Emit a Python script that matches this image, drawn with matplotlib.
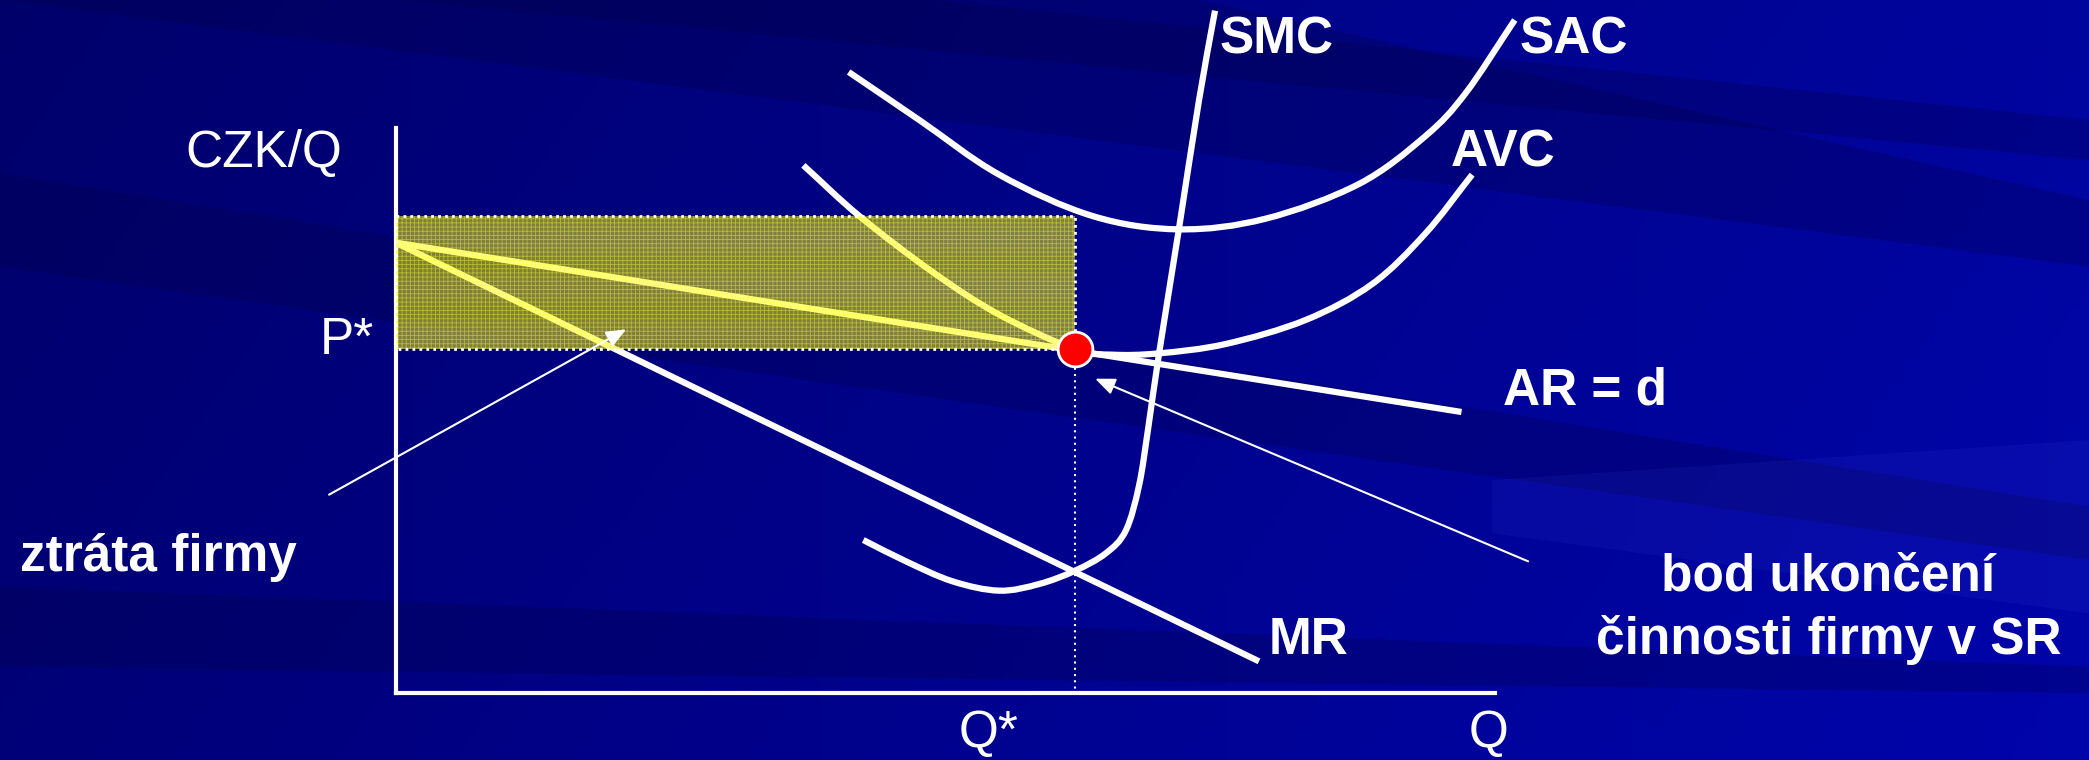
import numpy as np
import matplotlib.pyplot as plt
from matplotlib.patches import Rectangle, Polygon, PathPatch
from matplotlib.path import Path

plt.rcParams['font.family'] = ['Liberation Sans', 'DejaVu Sans']

# curve points (x to the right, y downward, 1568x570 grid)
smc_x = [648, 680, 715, 750, 780, 807, 830, 845, 855, 862, 870, 885, 900, 912]
smc_y = [405, 421, 436, 443, 438, 428, 415, 398, 364, 320, 265, 171, 75, 8]
sac_x = [637, 690, 750, 820, 885, 950, 1020, 1070, 1100, 1137]
sac_y = [54, 90, 131, 162, 172, 164, 138, 102, 70, 15]
avc_x = [603, 645, 700, 750, 807, 835, 870, 920, 980, 1030, 1070, 1105]
avc_y = [124, 162, 204, 236, 262, 266, 265, 258, 240, 213, 175, 131]
ar_x = [297, 1097]
ar_y = [182, 309]
mr_x = [297, 945]
mr_y = [182, 496]

q_star, p_star = 807, 262
loss_top = 162
axis_origin = (297, 520)
axis_top, axis_right = 96, 1122

labels = {
    'CZK/Q': (198, 115, 'normal'),
    'P*': (260, 255, 'normal'),
    'Q*': (742, 550, 'normal'),
    'Q': (1117, 550, 'normal'),
    'SMC': (958, 30, 'bold'),
    'SAC': (1181, 30, 'bold'),
    'AVC': (1128, 115, 'bold'),
    'AR = d': (1190, 293, 'bold'),
    'MR': (982, 480, 'bold'),
    'ztráta firmy': (119, 418, 'bold'),
    'bod ukončení': (1372, 433, 'bold'),
    'činnosti firmy v SR': (1373, 480, 'bold'),
}


def smooth_path(xs, ys):
    # Catmull-Rom through the read points, drawn as cubic Bezier segments
    p = np.column_stack([xs, ys]).astype(float)
    ext = np.vstack([2 * p[0] - p[1], p, 2 * p[-1] - p[-2]])
    verts, codes = [tuple(p[0])], [Path.MOVETO]
    for i in range(1, len(ext) - 2):
        p0, p1, p2, p3 = ext[i - 1], ext[i], ext[i + 1], ext[i + 2]
        verts += [tuple(p1 + (p2 - p0) / 6), tuple(p2 - (p3 - p1) / 6), tuple(p2)]
        codes += [Path.CURVE4] * 3
    return Path(verts, codes)


fig = plt.figure(figsize=(20.89, 7.60), dpi=100)
ax = fig.add_axes([0, 0, 1, 1])
ax.set_xlim(0, 1568)
ax.set_ylim(570, 0)
ax.axis('off')

# background: dark blue gradient with soft diagonal streaks
gx, gy = np.meshgrid(np.linspace(0, 1, 400), np.linspace(0, 1, 150))
blue = 0.42 + 0.2 * gx + 0.05 * gy
bg = np.dstack([np.zeros_like(blue), np.zeros_like(blue) + 0.02 * gx, blue])
ax.imshow(bg, extent=(0, 1568, 570, 0), aspect='auto', zorder=0)
streaks = [
    [(0, 0), (900, 0), (1568, 150), (1568, 200)],
    [(0, 130), (0, 200), (1568, 420), (1568, 380)],
    [(0, 440), (0, 500), (1568, 520), (1568, 500)],
    [(300, 0), (700, 0), (1568, 90), (1568, 120)],
]
for pts in streaks:
    ax.add_patch(Polygon(pts, closed=True, color=(0, 0, 0.25), alpha=0.25, lw=0, zorder=0.5))
ax.add_patch(Polygon([(1120, 360), (1568, 330), (1568, 460), (1120, 400)], closed=True,
                     color=(0.4, 0.4, 1.0), alpha=0.08, lw=0, zorder=0.5))

# axes
ax.plot([axis_origin[0], axis_origin[0]], [axis_top, axis_origin[1]], color='white', lw=3, zorder=2)
ax.plot([axis_origin[0], axis_right], [axis_origin[1], axis_origin[1]], color='white', lw=3, zorder=2)

# curves
for xs, ys in [(smc_x, smc_y), (sac_x, sac_y), (avc_x, avc_y)]:
    ax.add_patch(PathPatch(smooth_path(xs, ys), fill=False, edgecolor='white', lw=4.5,
                           capstyle='butt', zorder=3))
for xs, ys in [(ar_x, ar_y), (mr_x, mr_y)]:
    ax.plot(xs, ys, color='white', lw=4.5, solid_capstyle='butt', zorder=3)

# Q* guide
ax.plot([q_star, q_star], [p_star, axis_origin[1]], color='white', lw=1.5, ls=(0, (1, 2)), zorder=3)

# loss rectangle (yellow tinted overlay with a fine grid)
w, h = q_star - axis_origin[0], p_star - loss_top
ax.add_patch(Rectangle((axis_origin[0], loss_top), w, h, facecolor=(1, 1, 0), alpha=0.5, lw=0, zorder=4))
plt.rcParams['hatch.linewidth'] = 0.6
ax.add_patch(Rectangle((axis_origin[0], loss_top), w, h, fill=False, hatch='++++',
                       edgecolor=(1, 1, 0.2, 0.45), lw=0, zorder=4))
ax.add_patch(Rectangle((axis_origin[0], loss_top), w, h, fill=False, edgecolor='white',
                       lw=2, ls=(0, (1, 1.5)), zorder=5))

# shutdown point
ax.plot(q_star, p_star, 'o', ms=25, color='red', mec='white', mew=2, zorder=6)

# arrows
arrow = dict(arrowstyle='-|>,head_length=1.2,head_width=0.5', color='white', lw=1.5, shrinkA=0, shrinkB=0)
ax.annotate('', xy=(470, 247), xytext=(247, 371), arrowprops=arrow, zorder=6)
ax.annotate('', xy=(822, 284), xytext=(1147, 421), arrowprops=arrow, zorder=6)

for text, (x, y, weight) in labels.items():
    ax.text(x, y, text, color='white', fontsize=37, fontweight=weight, ha='center', va='center', zorder=7)

fig.savefig('out.png', dpi=100)
